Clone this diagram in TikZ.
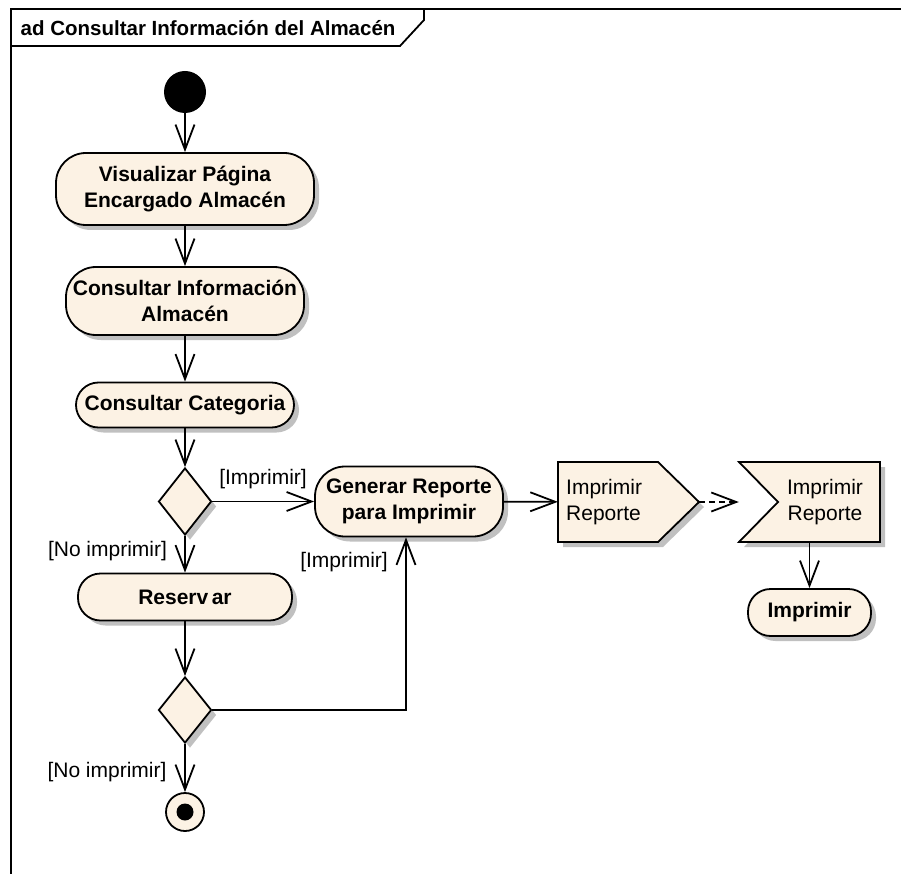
\documentclass[tikz,border=0pt]{standalone}
\usepackage{fontspec}
\setmainfont{Liberation Sans}
\usetikzlibrary{arrows.meta,shapes.geometric,shadows}
\definecolor{nodefill}{RGB}{252,242,228}
\definecolor{shadowgray}{RGB}{192,192,192}
\begin{document}
\begin{tikzpicture}[x=1pt,y=-1pt,
  txt/.style={font=\fontsize{21}{26}\selectfont, inner sep=0pt},
  shad/.style={drop shadow={shadow xshift=5pt, shadow yshift=-5pt, fill=shadowgray, opacity=1}},
  act/.style={draw, line width=1.8pt, fill=nodefill, rounded corners=22.5pt, align=center,
    inner sep=0pt, font=\bfseries\fontsize{21}{25.5}\selectfont, shad},
  bigact/.style={act, rounded corners=30pt},
  dec/.style={draw, diamond, line width=1.8pt, fill=nodefill, inner sep=0pt,
    minimum width=53pt, minimum height=67pt, shad},
  flow/.style={line width=1.8pt, -{Straight Barb[length=25pt, width=19pt, line width=1.8pt]}},
  signalbox/.style={draw, line width=1.8pt, fill=nodefill, line join=miter},
  frameline/.style={line width=1.8pt}
]
\useasboundingbox (0,0) rectangle (901,874);

% frame
\draw[frameline] (11,876) -- (11,9) -- (903,9);
\draw[frameline] (11,46) -- (400,46) -- (424,20) -- (424,9);
\node[anchor=base west, inner sep=0pt, font=\bfseries\fontsize{20.5}{25}\selectfont] (title) at (20.5,36) {ad Consultar Información del Almacén};

% nodes
\node[circle, fill=black, minimum size=42pt, inner sep=0pt] (start) at (185,92) {};
\node[bigact, minimum width=258pt, minimum height=72pt] (v1) at (185,189) {Visualizar Página\\Encargado Almacén};
\node[bigact, minimum width=238pt, minimum height=68pt] (v2) at (185,301) {Consultar Información\\Almacén};
\node[act, minimum width=218pt, minimum height=45pt] (v3) at (185,405) {Consultar Categoria};
\node[dec] (d1) at (185,501.5) {};
\node[bigact, minimum width=188pt, minimum height=70pt] (gen) at (409,501.5) {Generar Reporte\\para Imprimir};
\node[act, minimum width=214pt, minimum height=47pt] (res) at (185,597) {Reserv\,ar};
\node[dec, minimum height=66pt] (d2) at (185,710) {};
\node[circle, draw, line width=1.8pt, fill=nodefill, minimum size=38pt, inner sep=0pt] (fin) at (185,812) {};
\fill[black] (fin.center) circle (8.5pt);

% send signal
\fill[shadowgray] (563,467) -- (663,467) -- (704,507) -- (663,547) -- (563,547) -- cycle;
\draw[signalbox] (558,462) -- (658,462) -- (699,502) -- (658,542) -- (558,542) -- cycle;
\node[minimum width=141pt, minimum height=80pt, inner sep=0pt] (send) at (628.5,502) {};
\node[txt, align=left, anchor=west] (sendtxt) at (566,502) {Imprimir\\Reporte};

% receive signal
\fill[shadowgray] (744,467) -- (885,467) -- (885,547) -- (744,547) -- (783,507) -- cycle;
\draw[signalbox] (739,462) -- (880,462) -- (880,542) -- (739,542) -- (778,502) -- cycle;
\node[minimum width=141pt, minimum height=80pt, inner sep=0pt] (recv) at (809.5,502) {};
\node[txt, align=center] (recvtxt) at (825,502) {Imprimir\\Reporte};

\node[act, minimum width=123pt, minimum height=47pt] (imp) at (809.5,612.5) {Imprimir};

% connectors
\draw[flow] (start) -- (v1);
\draw[flow] (v1) -- (v2);
\draw[flow] (v2) -- (v3);
\draw[flow] (v3) -- (d1);
\draw[flow] (d1) -- (gen);
\draw[flow] (d1) -- (res);
\draw[flow] (res) -- (d2);
\draw[flow] (d2.east) -| ([xshift=-3pt]gen.south);
\draw[flow] (d2) -- (fin);
\draw[flow] (gen) -- (send);
\draw[flow, dash pattern=on 6pt off 4pt] (send.east) -- (recv.west);
\draw[flow] (recv.south) -- (imp.north);

% guard labels
\node[txt] (l1) at (263,479) {[Imprimir]};
\node[txt] (l2) at (107.5,551) {[No imprimir]};
\node[txt] (l3) at (344,562) {[Imprimir]};
\node[txt] (l4) at (107,772) {[No imprimir]};
\end{tikzpicture}
\end{document}
